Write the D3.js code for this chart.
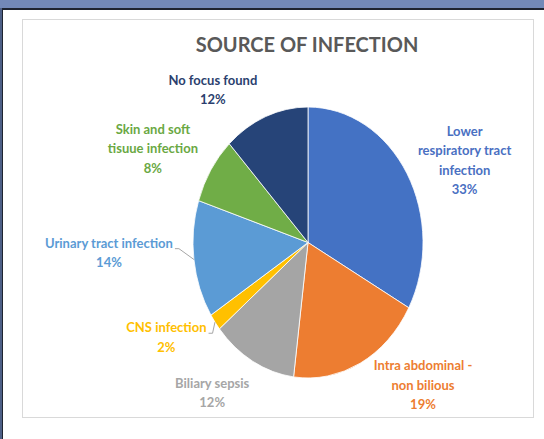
<!DOCTYPE html>
<html>
<head>
<meta charset="utf-8">
<script src="https://cdn.jsdelivr.net/npm/d3@7"></script>
<style>
  body { margin: 0; background: #fff; }
  svg { display: block; font-family: Lato, "Open Sans", sans-serif; }
</style>
</head>
<body>
<script>
// data
const categories = ["Lower respiratory tract infection", "Intra abdominal - non bilious", "Biliary sepsis",
    "CNS infection", "Urinary tract infection", "Skin and soft tisuue infection", "No focus found"];
const values = [33, 19, 12, 2, 14, 8, 12];
const labelLines = [
    ["Lower", "respiratory tract", "infection"],
    ["Intra abdominal -", "non bilious"],
    ["Biliary sepsis"],
    ["CNS infection"],
    ["Urinary tract infection"],
    ["Skin and soft", "tisuue infection"],
    ["No focus found"]
];
const colors = ["#4472C4", "#ED7D31", "#A5A5A5", "#FFC000", "#5B9BD5", "#70AD47", "#264478"];
const textColors = ["#4a70c2", "#ED7D31", "#a6a6a6", "#FFC000", "#5B9BD5", "#6aa843", "#2b3f6e"];
// hand placed label nudges (like the dragged labels in the original)
const nudges = [[23, 11], [44.5, -20], [-21, -10], [-16, -12.5], [-45, -12.5], [-24, 4], [-38, 17.5]];
const leader = [false, false, false, true, true, false, false];

let width = 544,
    height = 439,
    svg = d3.select('body').append('svg')
        .attr('width', width)
        .attr('height', height);

// window frame
svg.append('rect').attr('x', 0).attr('y', 0).attr('width', width).attr('height', 8).attr('fill', '#7389b8');
svg.append('rect').attr('x', 0).attr('y', 8).attr('width', width).attr('height', 2).attr('fill', '#1f2430');
svg.append('rect').attr('x', 0).attr('y', 8).attr('width', 2).attr('height', height).attr('fill', '#4d5f86');
svg.append('rect').attr('x', 2).attr('y', 8).attr('width', 1).attr('height', height).attr('fill', '#1f2430');

// chart area box
svg.append('rect')
    .attr('x', 22.5).attr('y', 19.5)
    .attr('width', 511).attr('height', 398)
    .attr('fill', '#fff')
    .attr('stroke', '#d9d9d9');

svg.append('text')
    .attr('x', 307)
    .attr('y', 52)
    .attr('text-anchor', 'middle')
    .attr('font-size', 20)
    .attr('font-weight', 'bold')
    .attr('fill', '#595959')
    .text('SOURCE OF INFECTION');

// pie (squashed into an ellipse like the original)
let cx = 308, cy = 242.5, r = 115, sy = 1.178;
let pie = d3.pie().sort(null).value(d => d)(values);
let arc = d3.arc().innerRadius(0).outerRadius(r);
let labelArc = d3.arc().innerRadius(r * 1.35).outerRadius(r * 1.35);

svg.append('g')
    .attr('transform', `translate(${cx},${cy}) scale(1,${sy})`)
    .selectAll('path').data(pie).enter()
    .append('path')
    .attr('d', arc)
    .attr('fill', (d, i) => colors[i])
    .attr('stroke', '#fff')
    .attr('stroke-width', 0.8)
    .attr('vector-effect', 'non-scaling-stroke');

let lh = 19.5;
pie.forEach((d, i) => {
    let c = labelArc.centroid(d),
        lx = cx + c[0] + nudges[i][0],
        ly = cy + c[1] * sy + nudges[i][1],
        lines = labelLines[i].concat([values[i] + '%']),
        y0 = ly - (lines.length - 1) * lh / 2 + 4.5;

    let t = svg.append('text')
        .attr('text-anchor', 'middle')
        .attr('font-size', 13)
        .attr('font-weight', 'bold')
        .attr('fill', textColors[i]);
    lines.forEach((s, j) => {
        t.append('tspan').attr('x', lx).attr('y', y0 + j * lh).text(s);
    });

    if (leader[i]) {
        let w = t.select('tspan').node().getComputedTextLength(),
            mid = (d.startAngle + d.endAngle) / 2,
            ex = cx + Math.sin(mid) * r,
            ey = cy - Math.cos(mid) * r * sy,
            sx = lx + w / 2 + 2,
            sy0 = y0 + 1;
        svg.append('path')
            .attr('d', `M${sx},${sy0} L${sx + 4},${sy0} L${ex},${ey}`)
            .attr('fill', 'none')
            .attr('stroke', '#a6a6a6')
            .attr('stroke-width', 1);
    }
});
</script>
</body>
</html>
